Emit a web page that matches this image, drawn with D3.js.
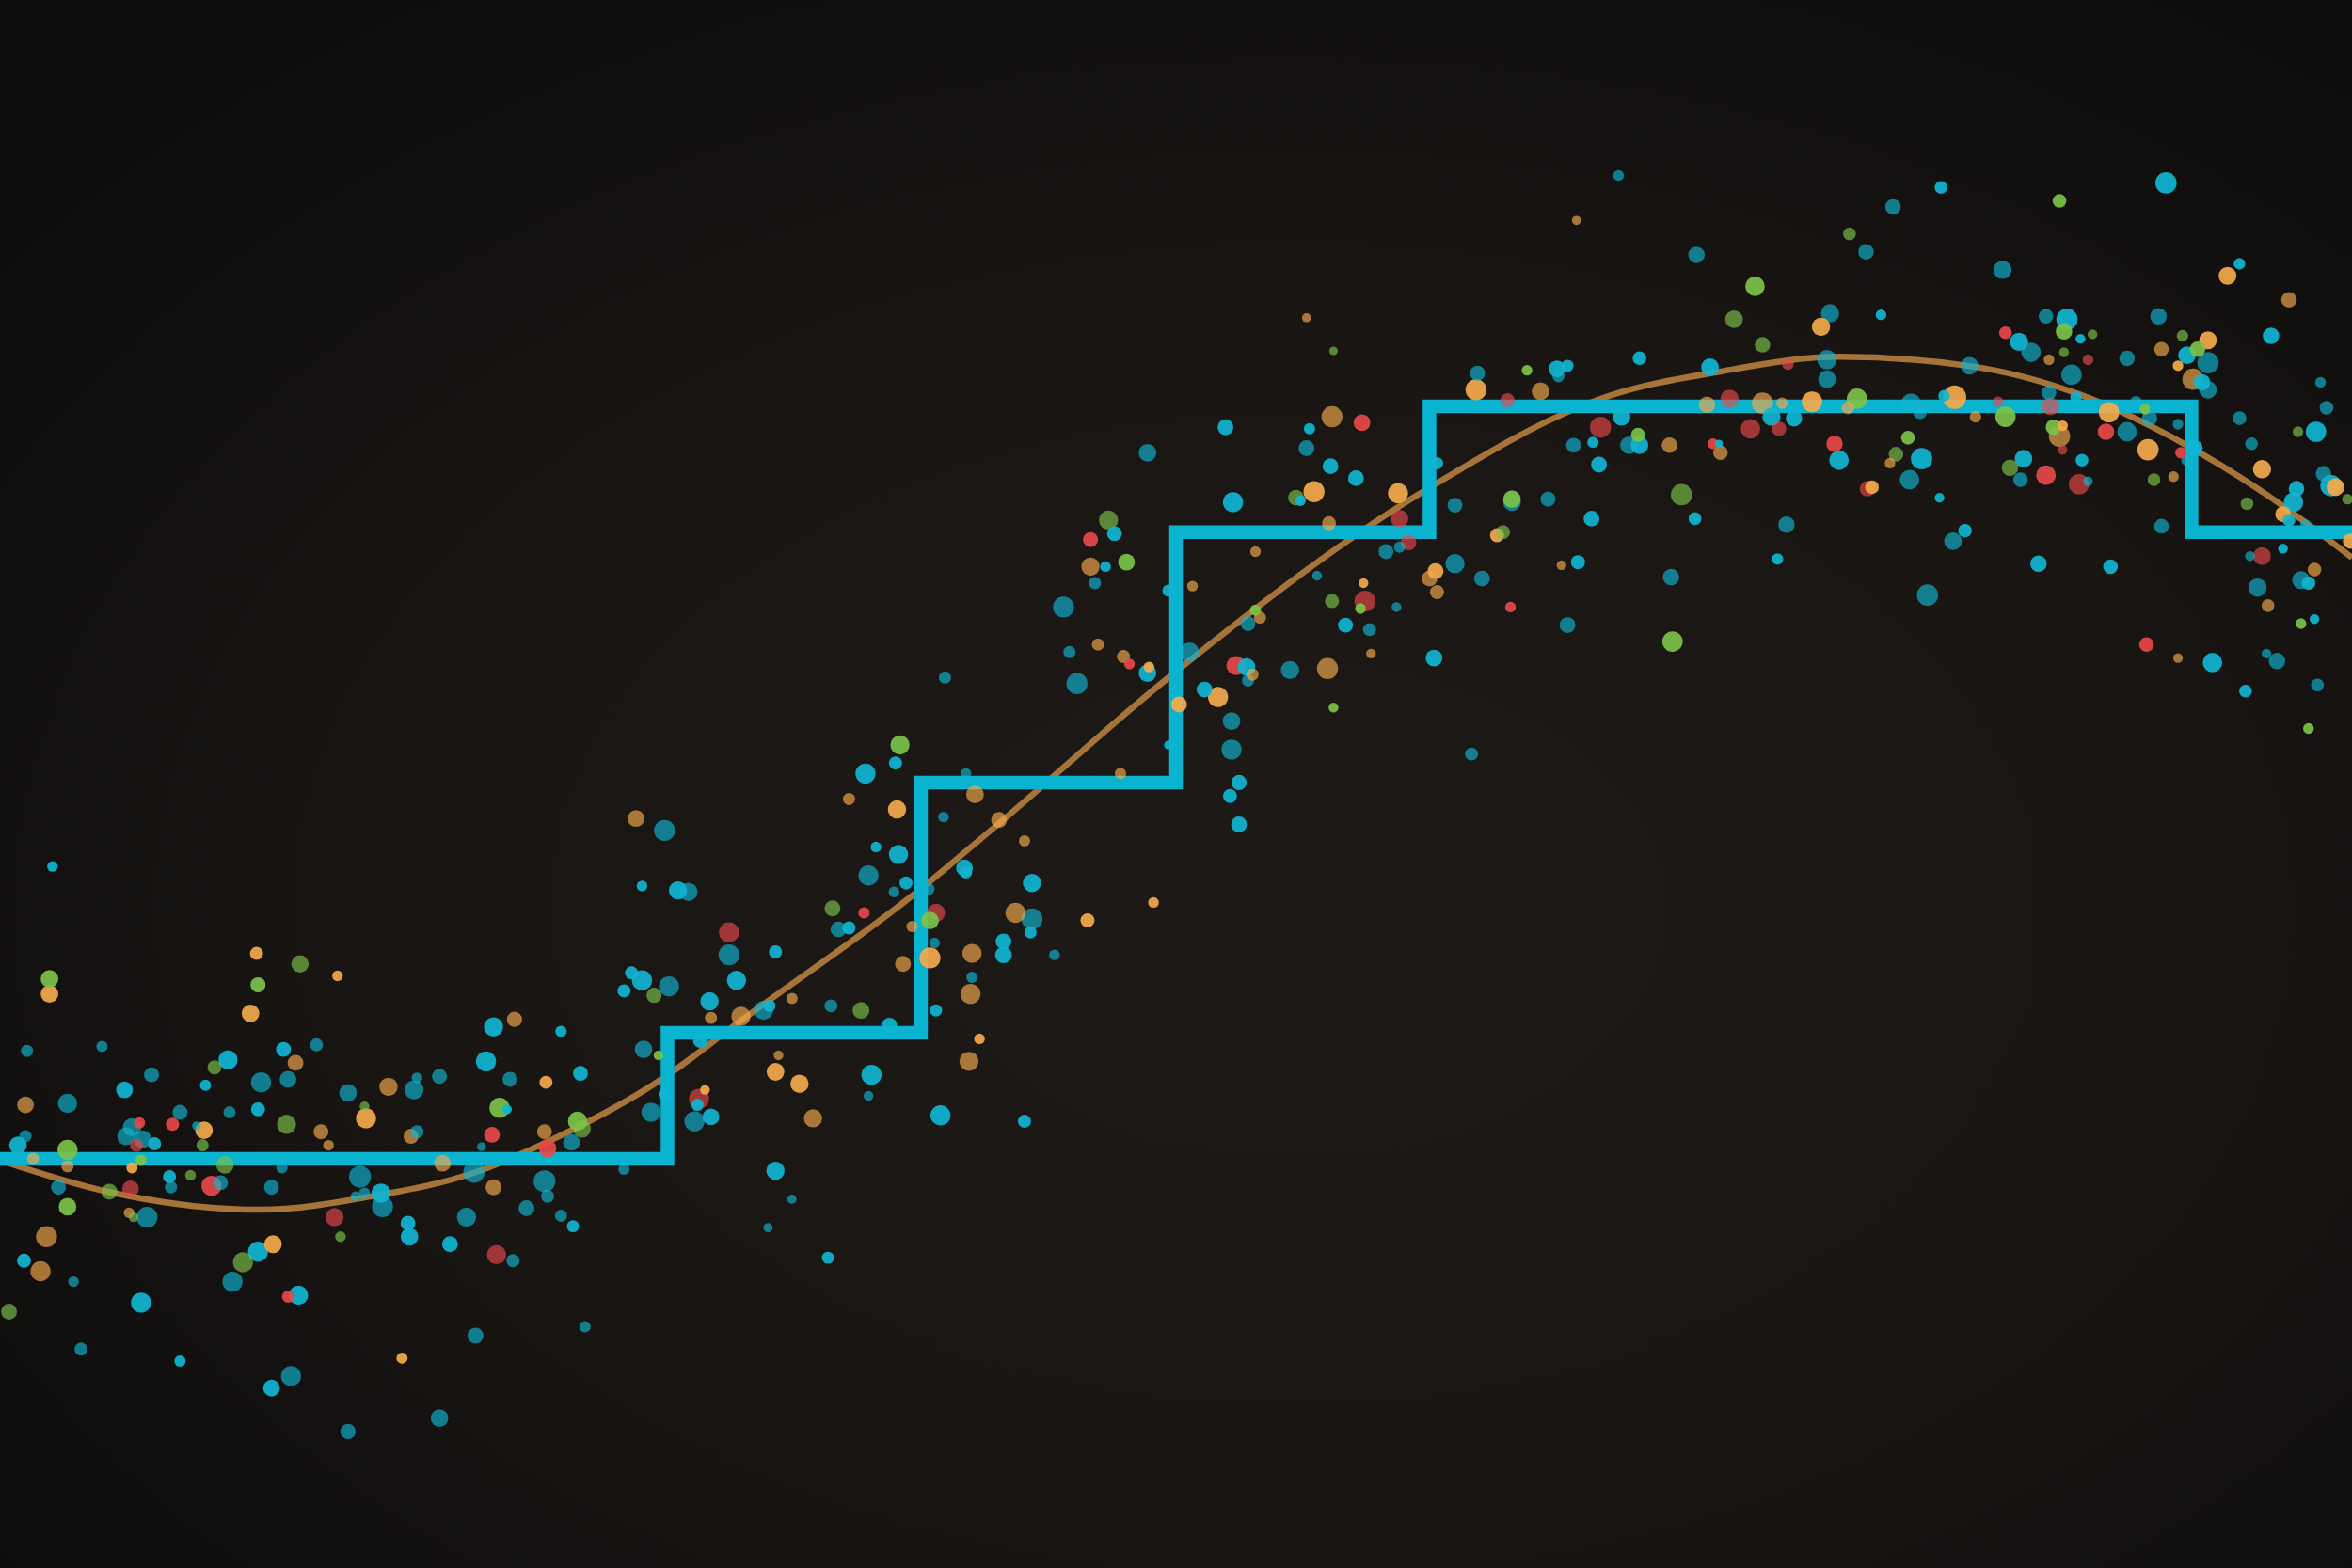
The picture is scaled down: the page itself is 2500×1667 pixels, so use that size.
<!DOCTYPE html>
<html>
<head>
<meta charset="utf-8">
<script src="https://cdn.jsdelivr.net/npm/d3@7"></script>
<style>
  html, body { margin: 0; padding: 0; background: #121110; overflow: hidden; }
  svg { display: block; }
</style>
</head>
<body>
<svg id="chart" width="2500" height="1667"></svg>
<script>
// ---- data (x: time units 0..1568, v: value units 0..1046) ----
const stepX = [0, 445, 614, 784, 953, 1461, 1568];
const stepV = [273, 357, 524, 691, 775, 691, 691];

const trendX = [0, 72, 173, 248, 317, 360, 444, 491, 610, 664, 779, 947, 1073, 1146, 1226, 1312, 1386, 1463, 1514, 1568];
const trendV = [272, 251, 239, 248, 264, 282, 328, 363, 450, 495, 594, 717, 782, 798, 808, 802, 783, 746, 714, 674];

// [x, v, size, bright(1)/muted(0)]
const cyanPoints = [
[421,397,4.3,1],[428,392,6.6,1],[446,388,6.6,0],[416,385,4.3,1],[329,361,6.3,1],[374,358,3.7,1],[429,346,5.8,0],[18,345,4,0],[68,348,3.7,0],[211,349,4.3,0],[189,346,4.9,1],[152,339,6.3,1],[101,329,4.9,0],[83,319,5.5,1],[137,322,3.7,1],[174,324,6.6,0],[192,326,5.5,0],[324,338,6.6,1],[340,326,4.9,0],[278,327,3.5,0],[293,328,4.9,0],[276,319,6.3,0],[232,317,5.8,0],[387,330,4.9,1],[45,310,6.3,0],[120,304,4.9,0],[153,304,4,0],[172,306,4.6,1],[278,291,4.3,0],[338,306,3.2,1],[321,281,2.9,0],[381,284,5.5,0],[434,304,6.3,0],[17,288,4,0],[12,282,5.8,1],[88,294,6,0],[84,288,5.8,0],[95,286,5.8,0],[103,283,4.3,1],[131,295,2.9,0],[188,267,3.7,0],[316,264,7,0],[416,266,3.7,0],[39,254,4.9,0],[113,261,4.3,1],[114,254,4,0],[147,257,4.9,0],[181,254,4.9,0],[240,261,7.2,0],[243,250,3.7,0],[237,248,3.2,0],[254,250,6.3,1],[255,241,6.9,0],[363,258,7.2,0],[365,248,4.3,0],[98,234,6.9,0],[272,230,4.9,1],[273,221,5.8,1],[311,234,6.3,0],[351,240,5.2,0],[374,235,4,0],[382,228,4,1],[300,216,5.2,1],[342,205,4.3,0],[16,205,4.6,1],[49,191,3.5,0],[172,211,6.6,1],[155,191,6.6,0],[199,182,6.3,1],[94,177,6.6,1],[54,146,4.3,0],[120,138,3.7,1],[194,128,6.6,0],[181,120,5.5,1],[317,155,5.2,0],[390,161,3.7,0],[293,100,5.8,0],[232,91,5,0],[35,468,3.5,1],
[630,594,4,0],[718,590,6.9,0],[765,597,5.8,1],[803,586,5.2,1],[821,565,5.8,0],[821,546,6.6,0],[779,549,2.9,1],[826,524,5,1],[820,515,4.6,1],[826,496,5.2,1],[597,537,4.3,1],[577,530,6.6,1],[644,530,3.5,0],[443,492,6.9,0],[629,501,3.5,0],[584,481,3.5,1],[599,476,6.3,1],[428,455,3.5,1],[452,452,6,1],[459,451,6,0],[643,467,5.5,1],[644,464,4,1],[579,462,6.6,0],[604,457,4.3,1],[596,451,3.5,0],[688,457,6,1],[619,453,4,0],[688,433,6.9,0],[687,424,4,1],[559,426,5.2,0],[566,427,4.3,1],[486,409,6.9,0],[517,411,4.3,1],[623,417,3.5,0],[669,418,5.2,1],[669,409,5.5,1],[703,409,3.5,0],[648,394,3.7,0],[491,392,6.3,1],[473,378,6,1],[509,372,6.3,0],[513,375,4,1],[554,375,4.3,0],[593,362,5,1],[624,372,4,1],[467,352,5,1],[581,329,6.6,1],[579,315,3.2,0],[465,309,4,1],[474,301,5.5,1],[463,298,6.6,0],[443,316,4,1],[627,302,6.6,1],[683,298,4.3,1],[517,265,6,1],[528,246,3,0],[512,227,3,0],[552,207,4,1],
[985,797,5,0],[1039,795,4,0],[817,761,5.2,1],[873,760,3.7,1],[871,747,5.2,0],[765,744,5.8,0],[887,735,5.2,1],[904,727,5.2,1],[822,711,6.6,1],[867,712,3.5,1],[958,737,4,1],[970,709,4.9,0],[1008,711,5.8,0],[1032,713,4.9,0],[1061,700,5.2,1],[1081,768,5.8,1],[1049,749,4.9,0],[1062,751,3.7,1],[1086,749,5.8,0],[1093,749,5.8,1],[1066,736,5.2,1],[933,681,3.7,0],[924,678,4.9,0],[970,670,6.3,0],[988,660,5.2,0],[1052,671,4.6,1],[1045,629,5.2,0],[956,607,5.5,1],[981,543,4.3,0],[743,690,4.9,1],[737,668,3.5,1],[730,657,4,0],[709,641,6.9,0],[779,652,4,1],[878,662,3.2,0],[931,641,3.2,0],[832,630,4.9,0],[897,629,4.9,1],[913,626,4.3,0],[713,611,4,0],[793,611,6.3,0],[831,601,5.8,1],[832,592,4,0],[860,599,6,0],[1038,800,5.5,1],[1045,802,4,1],
[1079,929,3.5,0],[1294,921,4.2,1],[1444,924,7,1],[1262,908,5.1,0],[1244,878,5.1,0],[1131,876,5.4,0],[1335,866,6,0],[1493,870,3.8,1],[1220,837,6,0],[1254,836,3.5,1],[1093,807,4.5,1],[1140,801,5.8,1],[1218,806,6.4,0],[1218,793,5.8,0],[1364,835,4.8,0],[1378,833,7,1],[1346,818,6,1],[1354,811,6.4,0],[1387,820,3.2,1],[1381,796,6.7,0],[1313,802,5.8,0],[1418,807,5.1,0],[1439,835,5.4,0],[1514,822,5.4,1],[1458,809,5.8,1],[1472,804,7,0],[1468,791,5.4,1],[1472,786,5.8,0],[1547,791,3.5,0],[1551,774,4.5,0],[1544,758,6.7,1],[1501,750,4.2,0],[1493,767,4.5,0],[1549,730,5.1,0],[1554,722,7,1],[1531,720,5.1,1],[1529,711,6.4,1],[1526,699,4.2,1],[1537,696,3.5,0],[1441,695,4.8,0],[1522,680,3.2,1],[1500,675,3.2,0],[1534,659,5.8,0],[1539,657,4.5,1],[1505,654,6,0],[1543,633,3.2,1],[1475,604,6.4,1],[1511,610,3.2,0],[1518,605,5.4,0],[1545,589,4.2,0],[1497,585,4.2,1],[1181,768,6,1],[1196,767,5.4,1],[1274,777,6.4,0],[1280,771,4.5,0],[1296,782,3.8,1],[1366,784,4.8,0],[1384,781,3.8,1],[1418,758,6.4,0],[1433,767,5.1,0],[1424,778,3.8,0],[1452,763,3.5,0],[1463,747,5.4,1],[1458,739,3.8,0],[1146,750,2.6,1],[1226,739,6.4,1],[1281,740,7,1],[1273,726,6.4,0],[1349,740,5.8,1],[1347,726,4.8,0],[1392,725,3.2,0],[1388,739,4.2,1],[1293,714,3.2,1],[1130,700,4.2,1],[1191,696,5.4,0],[1185,673,3.8,1],[1310,692,4.5,1],[1302,685,5.8,0],[1359,670,5.4,1],[1407,668,4.8,1],[1114,661,5.4,0],[1285,649,7,0]
];

const orangePoints = [
[171,410,4.3,1],[225,395,3.5,1],[33,383,5.8,1],[167,370,5.8,1],[343,366,5,0],[197,337,5.2,0],[259,321,6,0],[364,324,4.3,1],[17,309,5.5,0],[244,300,6.6,1],[214,291,4.9,0],[219,282,3.5,0],[274,288,4.9,0],[363,291,4.9,0],[22,273,4,0],[45,268,4,0],[136,292,5.8,1],[88,267,3.7,1],[295,270,5.5,0],[329,254,5.2,0],[86,237,3.5,0],[31,221,6.9,0],[27,198,6.6,0],[182,216,5.8,1],[268,140,3.7,1],
[766,601,3.5,1],[786,576,5.2,1],[812,581,6.6,1],[566,513,4,0],[598,506,6,1],[424,500,5.5,0],[650,516,5.8,0],[666,499,5.2,0],[683,485,3.7,0],[608,428,3.7,0],[677,437,6.6,0],[725,432,4.6,1],[769,444,3.5,1],[620,407,6.9,1],[602,403,5.2,0],[648,410,6.3,0],[647,383,6.6,0],[474,367,4,0],[494,368,6.3,0],[528,380,3.7,0],[653,353,3.5,1],[646,338,6.3,0],[519,342,3.2,0],[517,331,5.8,1],[533,323,6,1],[542,300,6,0],[470,319,3.2,1],[747,530,3.7,0],
[984,786,6.9,1],[1027,785,5.8,0],[888,768,6.9,0],[876,718,6.9,1],[932,717,6.6,1],[886,697,4.6,0],[998,689,4.6,1],[957,665,5.2,1],[953,660,5.2,0],[958,651,4.6,0],[1041,669,3.2,0],[837,678,3.5,0],[727,668,6,0],[795,655,3.5,0],[909,657,3.2,1],[840,634,4,0],[914,610,3.2,0],[732,616,4,0],[749,608,4.3,0],[835,596,4,0],[885,600,6.9,0],[871,834,3,0],[1051,899,3,0],
[1485,862,5.8,1],[1526,846,5.1,0],[1214,828,6,1],[1366,806,3.5,0],[1441,813,4.8,0],[1472,819,5.8,1],[1452,802,3.5,1],[1462,793,7,0],[1508,733,6,1],[1557,721,5.8,1],[1522,703,5.1,1],[1567,685,5,1],[1543,666,4.5,0],[1512,642,4.2,0],[1452,607,3.2,0],[1113,749,5.1,0],[1138,776,5.4,0],[1175,777,7,0],[1188,777,3.8,0],[1208,778,6.7,1],[1232,774,4.2,0],[1303,781,7.7,1],[1317,768,3.8,0],[1375,762,3.5,1],[1373,755,7,0],[1406,771,6.7,1],[1432,746,7,1],[1449,728,3.5,0],[1147,744,4.8,0],[1260,737,3.5,0],[1248,721,4.5,1]
];

const redPoints = [
[328,289,5.2,1],[365,280,5.8,1],[93,297,3.7,1],[91,282,4.3,0],[115,296,4.3,1],[87,253,5.5,0],[141,255,6.6,1],[223,234,6,0],[331,209,6.3,0],[192,181,4,1],
[753,603,3.5,1],[576,437,3.7,1],[624,437,6,0],[486,424,6.6,0],[466,313,6.6,0],
[1005,779,4.6,0],[908,764,5.5,1],[933,700,5.8,0],[939,684,5.2,0],[1007,641,3.5,1],[727,686,4.9,1],[910,645,6.9,0],[824,602,6.3,1],[1067,761,6.9,0],
[1192,803,3.8,0],[1337,824,4.2,1],[1392,806,3.5,0],[1508,675,5.8,0],[1431,616,4.8,1],[1153,780,6,0],[1186,760,4.8,0],[1167,760,6.4,0],[1332,778,3.5,0],[1367,775,5.8,0],[1375,746,3.2,0],[1404,758,5.4,1],[1454,744,3.8,1],[1142,750,3.5,1],[1223,750,5.4,1],[1245,720,5.1,0],[1364,729,6.4,1],[1386,723,6.7,0]
];

const greenPoints = [
[200,403,5.7,0],[33,393,5.8,1],[172,389,5,1],[436,382,5,0],[439,342,3.2,1],[143,334,4.6,0],[191,296,6.3,0],[243,308,3.2,0],[333,307,6.6,1],[385,298,6.3,1],[388,293,5.8,0],[45,279,6.6,1],[135,282,4,0],[94,272,3.7,1],[150,269,5.8,0],[73,251,5.2,0],[127,262,3.5,0],[45,241,5.8,1],[89,234,3.2,0],[227,221,3.5,0],[162,204,6.6,0],[6,171,5.2,0],
[600,549,6.3,1],[555,440,5.2,0],[620,432,5.8,1],[574,372,5.5,0],
[864,714,5.2,0],[1008,713,5.8,1],[1092,756,4.6,1],[1002,691,4.6,0],[739,699,6.3,0],[751,671,5.5,1],[888,645,4.6,0],[907,640,3.5,1],[837,639,3.7,1],[889,574,3.2,1],[889,812,2.8,0],[1018,799,3.5,1],
[1373,912,4.5,1],[1233,890,4.2,0],[1170,855,6.4,1],[1156,833,5.8,0],[1175,816,5.1,0],[1376,825,5.4,1],[1395,823,3.2,0],[1376,811,3.2,0],[1455,822,3.8,0],[1465,813,5.1,1],[1532,758,3.5,0],[1565,713,3.5,0],[1498,710,4.2,0],[1534,630,3.5,1],[1539,560,3.5,1],[1238,780,6.7,1],[1337,768,6.7,1],[1369,761,5.1,1],[1430,773,3.5,1],[1436,726,4.2,0],[1272,754,4.5,1],[1264,743,4.8,0],[1340,734,5.4,0],[1121,716,7,0],[1115,618,6.7,1]
];

const groupNames = ["cyan", "orange", "red", "green"];
const groupColors = ["#10b5d2", "#f4aa4c", "#e8484a", "#7cc24a"];

// ---- drawing ----
const W = 2500, H = 1667;
const svg = d3.select("#chart");

const x = d3.scaleLinear().domain([0, 1568]).range([0, W]);
const y = d3.scaleLinear().domain([0, 1046]).range([H, 0]);
const rScale = d3.scaleLinear().domain([0, 10]).range([0, 16.2]);
const color = d3.scaleOrdinal().domain(groupNames).range(groupColors);
const tone = d3.scaleOrdinal().domain([0, 1]).range([0.66, 0.92]);

// background
const defs = svg.append("defs");
const bg = defs.append("radialGradient").attr("id", "bg")
  .attr("cx", "55%").attr("cy", "58%").attr("r", "72%");
bg.append("stop").attr("offset", "0%").attr("stop-color", "#1e1a18");
bg.append("stop").attr("offset", "55%").attr("stop-color", "#181513");
bg.append("stop").attr("offset", "100%").attr("stop-color", "#0d0c0b");
svg.append("rect").attr("width", W).attr("height", H).attr("fill", "url(#bg)");

// trend curve
const trend = trendX.map((d, i) => [d, trendV[i]]);
svg.append("path")
  .datum(trend)
  .attr("fill", "none")
  .attr("stroke", "#a67438")
  .attr("stroke-width", 6.5)
  .attr("d", d3.line().x(d => x(d[0])).y(d => y(d[1])).curve(d3.curveMonotoneX));

// step line
const steps = stepX.map((d, i) => [d, stepV[i]]);
svg.append("path")
  .datum(steps)
  .attr("fill", "none")
  .attr("stroke", "#0ab4d0")
  .attr("stroke-width", 14.5)
  .attr("stroke-linejoin", "miter")
  .attr("d", d3.line().x(d => x(d[0])).y(d => y(d[1])).curve(d3.curveStepAfter));

// scatter
const all = [];
[cyanPoints, orangePoints, redPoints, greenPoints].forEach((arr, gi) => {
  arr.forEach(p => all.push({ x: p[0], v: p[1], s: p[2], b: p[3], g: groupNames[gi] }));
});
all.sort((a, b) => b.s - a.s);

svg.append("g")
  .selectAll("circle")
  .data(all)
  .join("circle")
  .attr("cx", d => x(d.x))
  .attr("cy", d => y(d.v))
  .attr("r", d => rScale(d.s))
  .attr("fill", d => color(d.g))
  .attr("fill-opacity", d => tone(d.b));
</script>
</body>
</html>
